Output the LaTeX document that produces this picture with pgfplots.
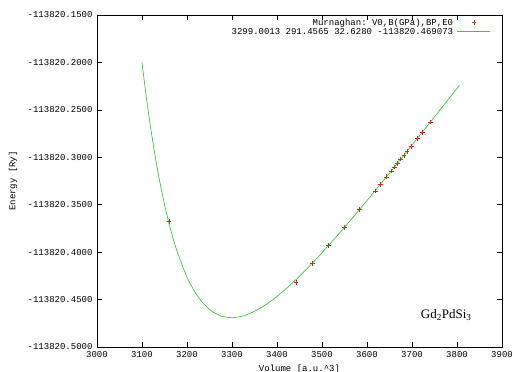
\documentclass[border=0pt]{standalone}
\usepackage{fontspec}
\setmainfont{Liberation Serif}
\setmonofont{Liberation Mono}
\usepackage{pgfplots}
\pgfplotsset{compat=1.18}
\definecolor{fitgreen}{RGB}{60,200,60}
\definecolor{ptred}{RGB}{215,40,30}
\newcommand{\mono}{\ttfamily\fontsize{9}{10}\selectfont}
\pgfplotsset{
  fitleg/.style={legend image code/.code={\draw[##1] (0pt,0pt) -- (33pt,0pt);}},
  ptleg/.style={legend image code/.code={\draw[##1, mark repeat=1] plot coordinates {(16.5pt,0pt)};}},
}
\begin{document}
\begin{tikzpicture}
\path[use as bounding box] (0,0) rectangle (514pt,372pt);
\begin{axis}[
  at={(97pt,25pt)}, anchor=south west,
  scale only axis, width=405pt, height=332pt,
  xmin=3000, xmax=3900, ymin=-0.5, ymax=-0.15,
  xtick={3000,3100,3200,3300,3400,3500,3600,3700,3800,3900},
  xticklabels={3000,3100,3200,3300,3400,3500,3600,3700,3800,3900},
  ytick={-0.5,-0.45,-0.4,-0.35,-0.3,-0.25,-0.2,-0.15},
  yticklabels={-113820.5000,-113820.4500,-113820.4000,-113820.3500,-113820.3000,-113820.2500,-113820.2000,-113820.1500},
  tick align=inside, major tick length=5pt, minor tick num=0,
  tick style={black, line width=0.6pt},
  axis line style={black, line width=0.8pt},
  ticklabel style={font=\mono},
  xticklabel style={yshift=-1pt},
  yticklabel style={xshift=-1pt},
  xlabel={Volume [a.u.\textasciicircum 3]},
  ylabel={Energy [Ry]},
  label style={font=\mono},
  xlabel style={at={(axis description cs:0.5,-0.066)}, anchor=center},
  ylabel style={at={(axis description cs:-0.207,0.5)}, anchor=center},
  reverse legend,
  legend cell align=right,
  legend plot pos=right,
  legend style={at={(1,1)}, anchor=north east, xshift=-11pt, yshift=-4pt,
    draw=none, fill=none, inner sep=0pt, font=\mono, row sep=2pt,
    nodes={inner sep=0pt, text height=6pt, text depth=1pt},
    /tikz/every odd column/.style={column sep=4pt}},
]
\addplot[fitgreen, line width=0.7pt, smooth, tension=0.4, fitleg]
coordinates {
(3100,-0.2001) (3110,-0.2379) (3120,-0.2713) (3130,-0.3008) (3140,-0.3268)
(3150,-0.3497) (3160,-0.3697) (3175,-0.3949) (3200,-0.4265) (3225,-0.4475)
(3250,-0.4605) (3275,-0.4672) (3300,-0.4691) (3325,-0.4672) (3350,-0.4624)
(3375,-0.4554) (3400,-0.4467) (3425,-0.4365) (3450,-0.4253) (3475,-0.4133)
(3500,-0.4006) (3550,-0.3738) (3600,-0.3456) (3650,-0.3167) (3700,-0.2872)
(3750,-0.2574) (3805,-0.2244)
};
\addlegendentry{3299.0013 291.4565 32.6280 -113820.469073}
\addplot[only marks, mark=+, mark size=2.4pt, ptred, line width=0.6pt, ptleg]
coordinates {
(3160,-0.3680) (3442,-0.4320) (3478,-0.4122) (3514,-0.3932) (3550,-0.3737)
(3583,-0.3553) (3618,-0.3356) (3630,-0.3285) (3643,-0.3206) (3654,-0.3144)
(3661,-0.3102) (3668,-0.3062) (3675,-0.3019) (3682,-0.2978) (3689,-0.2937)
(3698,-0.2883) (3712,-0.2800) (3723,-0.2735) (3741,-0.2628)
};
\addlegendentry{Murnaghan: V0,B(GPa),BP,E0}
\node[font=\fontsize{13}{15}\selectfont] at (axis cs:3776,-0.4663) {Gd\textsubscript{2}PdSi\textsubscript{3}};
\end{axis}
\end{tikzpicture}
\end{document}
